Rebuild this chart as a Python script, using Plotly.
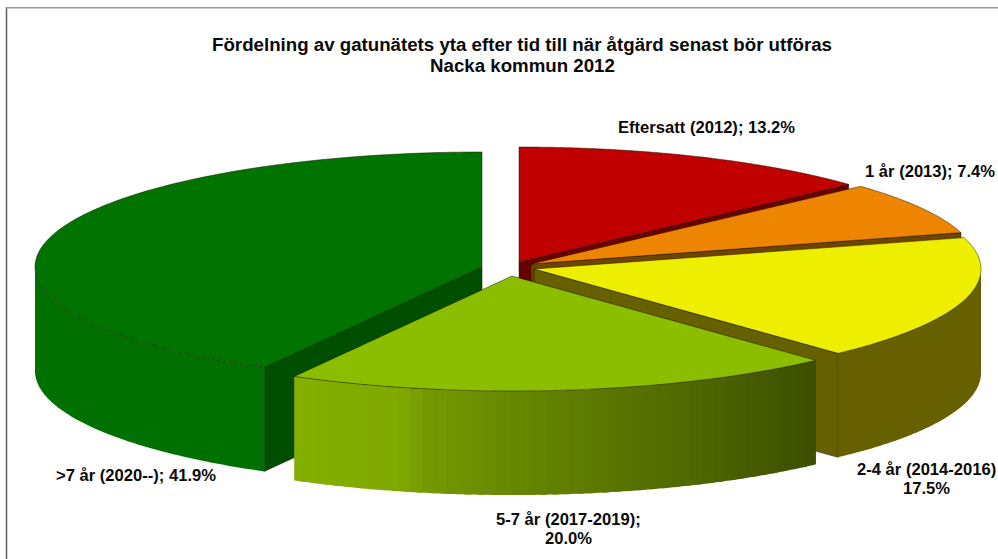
import numpy as np
import plotly.graph_objects as go

# ---- data ----
categories = ["Eftersatt (2012)", "1 år (2013)", "2-4 år (2014-2016)", "5-7 år (2017-2019)", ">7 år (2020--)"]
shares = [13.2, 7.4, 17.5, 20.0, 41.9]
separators = ["; ", "; ", "<br>", ";<br>", "; "]
title_lines = ["Fördelning av gatunätets yta efter tid till när åtgärd senast bör utföras", "Nacka kommun 2012"]

# ---- style ----
top_colors = ["#C00000", "#EE8500", "#EEEE00", "#8CBE00", "#007300"]
face_colors = ["#6B0000", "#6E4500", "#666000", "#3F5000", "#004F00"]
rim_colors = ["#6B0000", "#6E4500", "#666000", None, "#007000"]
lime_stops_x = [294, 400, 430, 500, 600, 700, 815]
lime_stops_rgb = [(133, 175, 0), (128, 168, 0), (115, 152, 0), (105, 138, 0), (92, 120, 0), (78, 102, 0), (60, 78, 0)]

# ---- layout of the tilted pie, in axis units ----
RX, RY, DEPTH = 447, 115, 104
centres = [(519, 262), (531, 264), (534, 269), (512, 276), (482, 267)]
label_pos = [(706, 127), (930, 171), (926, 479), (568, 529), (136, 475)]
LINE_GAP = 18.5
W, H = 998, 559


def px(cx, t):
    return cx + RX * np.sin(np.radians(t))


def py(cy, t):
    return cy - RY * np.cos(np.radians(t))


fig = go.Figure()


def poly(xs, ys, fill=None, line=None, width=0.7):
    fig.add_trace(go.Scatter(
        x=list(xs), y=list(ys), mode="lines", fill="toself" if fill else None,
        fillcolor=fill, hoverinfo="skip", showlegend=False,
        line=dict(color=line or "rgba(0,0,0,0)", width=width if line else 0, simplify=False),
    ))


EDGE = "rgba(20,20,0,0.7)"
cum = np.concatenate([[0], np.cumsum(shares)]) * 3.6

# painter's order: the big back slice first, then clockwise from the top
for i in [4, 0, 1, 2, 3]:
    cx, cy = centres[i]
    t0, t1 = cum[i], cum[i + 1]
    # radial cut face at the end of the slice
    if i in (0, 1, 2, 4):
        ang = t0 if i == 4 else t1
        xe, ye = px(cx, ang), py(cy, ang)
        poly([cx, xe, xe, cx, cx], [cy, ye, ye + DEPTH, cy + DEPTH, cy], face_colors[i], EDGE)
    # outer wall, visible only on the near half
    v0, v1 = max(t0, 90), min(t1, 270)
    if v1 > v0:
        if i == 3:
            edges = np.linspace(v0, v1, 46)
            for a, b in zip(edges[:-1], edges[1:]):
                # each band runs on under its neighbour so no seam shows
                seg = np.linspace(a, min(b + 0.8, v1), 5)
                xm = px(cx, (a + b) / 2)
                rgb = [int(round(np.interp(xm, lime_stops_x, [c[k] for c in lime_stops_rgb]))) for k in range(3)]
                col = f"rgb({rgb[0]},{rgb[1]},{rgb[2]})"
                xs = np.r_[px(cx, seg), px(cx, seg[::-1])]
                ys = np.r_[py(cy, seg), py(cy, seg[::-1]) + DEPTH]
                poly(xs, ys, col)
        else:
            seg = np.linspace(v0, v1, 90)
            xs = np.r_[px(cx, seg), px(cx, seg[::-1])]
            ys = np.r_[py(cy, seg), py(cy, seg[::-1]) + DEPTH]
            poly(xs, ys, rim_colors[i])
    # top surface
    seg = np.linspace(t0, t1, 160)
    poly(np.r_[cx, px(cx, seg), cx], np.r_[cy, py(cy, seg), cy], top_colors[i], EDGE)

# labels built from the data, one annotation per text line to hold the line gap
FONT = dict(family="Liberation Sans", size=16.6, color="#0A0A0A")
annotations = []
for cat, val, sep, (lx, ly) in zip(categories, shares, separators, label_pos):
    lines = f"{cat}{sep}{val:.1f}%".split("<br>")
    for k, ln in enumerate(lines):
        annotations.append(dict(
            x=lx, y=ly + (k - (len(lines) - 1) / 2) * LINE_GAP, xref="x", yref="y",
            text=f"<b>{ln}</b>", showarrow=False, font=FONT,
        ))
annotations.append(dict(x=522, y=65, xref="x", yref="y", text=f"<b>{title_lines[1]}</b>",
                        showarrow=False, font=dict(family="Liberation Sans", size=18.7, color="#0A0A0A")))

fig.update_layout(
    width=W, height=H, margin=dict(l=0, r=0, t=0, b=0),
    paper_bgcolor="white", plot_bgcolor="white", showlegend=False,
    title=dict(
        text=f"<b>{title_lines[0]}</b>",
        x=522 / W, xanchor="center", y=1 - 44 / H, yanchor="middle",
        font=dict(family="Liberation Sans", size=18.7, color="#0A0A0A"),
    ),
    xaxis=dict(range=[0, W], visible=False, fixedrange=True),
    yaxis=dict(range=[H, 0], visible=False, fixedrange=True),
    annotations=annotations,
    shapes=[
        dict(type="line", xref="x", yref="y", x0=6.5, x1=6.5, y0=7, y1=H, line=dict(color="#606060", width=1.5)),
        dict(type="line", xref="x", yref="y", x0=6, x1=W, y0=7.7, y1=7.7, line=dict(color="#999999", width=1.6)),
    ],
)

fig.write_html("out.html", config={"displayModeBar": False},
               post_script="document.body.style.margin='0';document.body.style.overflow='hidden';")
